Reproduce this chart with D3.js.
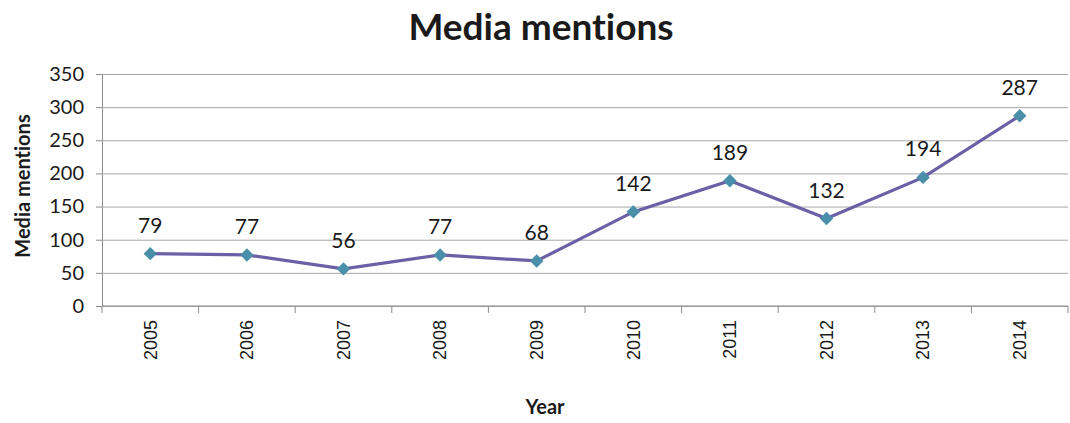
<!DOCTYPE html>
<html>
<head>
<meta charset="utf-8">
<script src="https://cdn.jsdelivr.net/npm/d3@7"></script>
<style>
  body { margin: 0; background: #fff; }
  svg text { fill: #1a1a1a; font-variant-ligatures: none; }
</style>
</head>
<body>
<div class="chart"></div>
<script>
const years = ["2005","2006","2007","2008","2009","2010","2011","2012","2013","2014"];
const mentions = [79, 77, 56, 77, 68, 142, 189, 132, 194, 287];
const yTicks = [0, 50, 100, 150, 200, 250, 300, 350];

const data = years.map((y, i) => ({year: y, value: mentions[i]}));

const margin = ({top: 74, right: 2, bottom: 117, left: 102});
const width = 1070 - margin.left - margin.right;
const height = 423 - margin.top - margin.bottom;

const svg = d3.select(".chart")
    .append("svg")
    .attr("width", 1070)
    .attr("height", 423);

const g = svg.append("g")
    .attr("transform", `translate(${margin.left},${margin.top})`);

const xScale = d3.scaleBand()
    .domain(years)
    .range([0, width]);

const yScale = d3.scaleLinear()
    .domain([0, 350])
    .range([height, 0]);

// gridlines + y axis
const yAxis = d3.axisLeft(yScale)
    .tickValues(yTicks)
    .tickSize(6)
    .tickPadding(12);

g.append("g")
    .attr("class", "y-axis")
    .call(yAxis)
    .call(g => g.select(".domain").attr("stroke", "#8c8c8c"))
    .call(g => g.selectAll(".tick line").attr("stroke", "#8c8c8c"))
    .call(g => g.selectAll(".tick line").clone()
        .attr("x1", 0)
        .attr("x2", width)
        .attr("stroke", "#a6a6a6"))
    .call(g => g.selectAll(".tick text")
        .attr("font-family", "Lato, 'Open Sans', sans-serif")
        .attr("font-size", 20)
        .attr("fill", "#1a1a1a"));

// x axis: ticks between categories
const xAxis = g.append("g")
    .attr("class", "x-axis")
    .attr("transform", `translate(0,${height})`);

xAxis.append("line")
    .attr("x1", 0).attr("x2", width)
    .attr("stroke", "#8c8c8c");

xAxis.selectAll(".sep")
    .data(years.concat(["end"]))
    .join("line")
    .attr("class", "sep")
    .attr("x1", (d, i) => i * xScale.step())
    .attr("x2", (d, i) => i * xScale.step())
    .attr("y1", 0)
    .attr("y2", 7)
    .attr("stroke", "#8c8c8c");

xAxis.selectAll(".lbl")
    .data(years)
    .join("text")
    .attr("class", "lbl")
    .attr("transform", d => `translate(${xScale(d) + xScale.bandwidth() / 2},14) rotate(-90)`)
    .attr("text-anchor", "end")
    .attr("dy", "0.35em")
    .attr("font-family", "'Liberation Sans', Arial, sans-serif")
    .attr("font-size", 18)
    .text(d => d);

// line
const line = d3.line()
    .x(d => xScale(d.year) + xScale.bandwidth() / 2)
    .y(d => yScale(d.value));

g.append("path")
    .datum(data)
    .attr("fill", "none")
    .attr("stroke", "#6a60a6")
    .attr("stroke-width", 3.2)
    .attr("d", line);

// diamond markers
g.selectAll(".pt")
    .data(data)
    .join("path")
    .attr("class", "pt")
    .attr("d", d3.symbol(d3.symbolDiamond2, 115))
    .attr("transform", d => `translate(${xScale(d.year) + xScale.bandwidth() / 2},${yScale(d.value)})`)
    .attr("fill", "#4a8faa");

// value labels
g.selectAll(".val")
    .data(data)
    .join("text")
    .attr("class", "val")
    .attr("x", d => xScale(d.year) + xScale.bandwidth() / 2)
    .attr("y", d => yScale(d.value) - 21)
    .attr("text-anchor", "middle")
    .attr("font-family", "Lato, 'Open Sans', sans-serif")
    .attr("font-size", 21)
    .text(d => d.value);

// titles
svg.append("text")
    .attr("x", 541)
    .attr("y", 40)
    .attr("text-anchor", "middle")
    .attr("font-family", "Lato, 'Open Sans', sans-serif")
    .attr("font-weight", "bold")
    .attr("font-size", 37)
    .text("Media mentions");

svg.append("text")
    .attr("transform", "translate(30,186) rotate(-90)")
    .attr("text-anchor", "middle")
    .attr("font-family", "Lato, 'Open Sans', sans-serif")
    .attr("font-weight", "bold")
    .attr("font-size", 20)
    .text("Media mentions");

svg.append("text")
    .attr("x", 545)
    .attr("y", 414)
    .attr("text-anchor", "middle")
    .attr("font-family", "Lato, 'Open Sans', sans-serif")
    .attr("font-weight", "bold")
    .attr("font-size", 20)
    .text("Year");
</script>
</body>
</html>
